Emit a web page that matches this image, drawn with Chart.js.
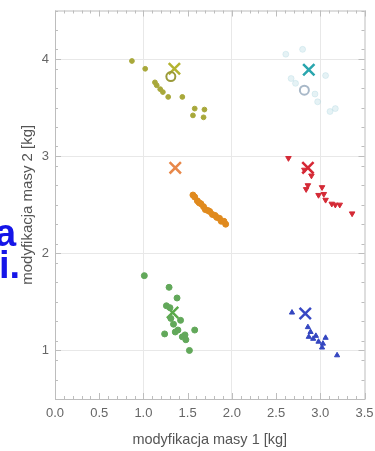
<!DOCTYPE html>
<html>
<head>
<meta charset="utf-8">
<script src="https://cdn.jsdelivr.net/npm/chart.js@4.4.0/dist/chart.umd.min.js"></script>
<style>
  html, body { margin: 0; padding: 0; background: #fff; }
  #wrap { position: relative; width: 375px; height: 451px; overflow: hidden; }
  .cut { position: absolute; font: bold 38px "Liberation Sans", Arial, sans-serif; line-height: 38px; color: #1515e8; white-space: nowrap; }
</style>
</head>
<body>
<div id="wrap">
  <canvas id="chart" width="375" height="451"></canvas>
  <div class="cut" style="left:-5px;top:214px">a</div>
  <div class="cut" style="left:-1px;top:246px">i.</div>
</div>
<script>
// cluster centres (X markers)
const centerX = [1.35, 1.36, 1.33, 2.87, 2.86, 2.83];
const centerY = [3.90, 2.88, 1.39, 3.89, 2.88, 1.38];

// hollow circles next to two of the centres
const ringX = [1.31, 2.82];
const ringY = [3.82, 3.68];

const yellowX = [0.87, 1.02, 1.13, 1.15, 1.19, 1.22, 1.28, 1.44, 1.58, 1.69, 1.56, 1.68];
const yellowY = [3.98, 3.90, 3.76, 3.73, 3.69, 3.66, 3.61, 3.61, 3.49, 3.48, 3.42, 3.40];

const orangeX = [1.56, 1.58, 1.61, 1.63, 1.65, 1.68, 1.70, 1.73, 1.75, 1.78, 1.81, 1.83, 1.86, 1.88, 1.91, 1.93];
const orangeY = [2.60, 2.58, 2.54, 2.52, 2.51, 2.48, 2.45, 2.44, 2.43, 2.40, 2.39, 2.37, 2.36, 2.33, 2.33, 2.30];

const greenX = [1.01, 1.29, 1.38, 1.26, 1.30, 1.31, 1.34, 1.42, 1.24, 1.36, 1.39, 1.44, 1.47, 1.58, 1.48, 1.52];
const greenY = [1.77, 1.65, 1.54, 1.46, 1.44, 1.33, 1.27, 1.31, 1.17, 1.19, 1.21, 1.14, 1.16, 1.21, 1.11, 1.00];

const cyanX = [2.61, 2.80, 3.06, 2.67, 2.72, 2.94, 2.97, 3.11, 3.17];
const cyanY = [4.05, 4.10, 3.83, 3.80, 3.75, 3.64, 3.56, 3.46, 3.49];

const redX = [2.64, 2.82, 2.90, 2.86, 2.84, 3.02, 2.98, 3.04, 3.06, 3.13, 3.17, 3.22, 3.36];
const redY = [2.98, 2.86, 2.80, 2.70, 2.66, 2.68, 2.60, 2.61, 2.55, 2.51, 2.50, 2.50, 2.41];

const blueX = [2.68, 2.86, 2.89, 2.87, 2.92, 2.95, 2.98, 3.03, 3.06, 3.02, 3.19];
const blueY = [1.39, 1.24, 1.19, 1.14, 1.12, 1.15, 1.09, 1.07, 1.13, 1.03, 0.95];

const centerColors = ['#b3b330', '#e8884a', '#5aaa4a', '#2aa6ae', '#d62735', '#3848c4'];

const xTicks = [0, 0.5, 1, 1.5, 2, 2.5, 3, 3.5];
const yTicks = [1, 2, 3, 4];

function pts(xs, ys) {
  return xs.map((x, i) => ({ x: x, y: ys[i] }));
}

function cloud(xs, ys, color, style, r, rot) {
  return {
    data: pts(xs, ys),
    pointStyle: style,
    pointRadius: r,
    rotation: rot || 0,
    backgroundColor: color,
    borderColor: color,
    borderWidth: 1,
    showLine: false
  };
}

const datasets = [
  cloud(yellowX, yellowY, '#a8a83a', 'circle', 2.4),
  cloud(orangeX, orangeY, '#e08a1e', 'circle', 3),
  cloud(greenX, greenY, '#62a85a', 'circle', 3),
  cloud(cyanX, cyanY, 'rgba(160,210,220,0.28)', 'circle', 3),
  cloud(redX, redY, '#d42a36', 'triangle', 3.2, 180),
  cloud(blueX, blueY, '#3446c0', 'triangle', 3),
  {
    data: pts(ringX, ringY),
    pointStyle: 'circle',
    pointRadius: 4.5,
    backgroundColor: 'rgba(0,0,0,0)',
    borderColor: ['#9a9a3a', '#a8b8c8'],
    borderWidth: 2,
    showLine: false
  },
  {
    data: pts(centerX, centerY),
    pointStyle: 'crossRot',
    pointRadius: 8,
    borderColor: centerColors,
    borderWidth: 2.5,
    showLine: false
  }
];

// frame with inward ticks, like the original
const framePlugin = {
  id: 'frame',
  beforeDatasetsDraw(chart) {
    const { ctx, chartArea: a, scales: { x, y } } = chart;
    ctx.save();
    ctx.strokeStyle = '#bdbdbd';
    ctx.lineWidth = 1;
    ctx.strokeRect(a.left + 0.5, a.top + 0.5, a.right - a.left, a.bottom - a.top);
    ctx.beginPath();
    for (let i = 0; i <= 35; i++) {
      const px = Math.round(x.getPixelForValue(i / 10)) + 0.5;
      const len = i % 5 === 0 ? 6 : 3;
      ctx.moveTo(px, a.bottom); ctx.lineTo(px, a.bottom - len);
      ctx.moveTo(px, a.top); ctx.lineTo(px, a.top + len);
    }
    for (let i = 5; i <= 45; i += 2) {
      const py = Math.round(y.getPixelForValue(i / 10)) + 0.5;
      ctx.moveTo(a.left, py); ctx.lineTo(a.left + 3, py);
      ctx.moveTo(a.right, py); ctx.lineTo(a.right - 3, py);
    }
    for (let i = 1; i <= 4; i++) {
      const py = Math.round(y.getPixelForValue(i)) + 0.5;
      ctx.moveTo(a.left, py); ctx.lineTo(a.left + 6, py);
      ctx.moveTo(a.right, py); ctx.lineTo(a.right - 6, py);
    }
    ctx.stroke();
    ctx.restore();
  }
};

const gridColor = (ctx) => {
  const v = ctx.tick ? ctx.tick.value : null;
  return v !== null && Number.isInteger(v) && v > 0 ? '#e8e8e8' : 'rgba(0,0,0,0)';
};

new Chart(document.getElementById('chart').getContext('2d'), {
  type: 'scatter',
  data: { datasets: datasets },
  options: {
    responsive: false,
    animation: false,
    layout: { padding: { top: 6, right: 5, left: 0, bottom: 0 } },
    plugins: { legend: { display: false }, tooltip: { enabled: false } },
    scales: {
      x: {
        type: 'linear',
        min: 0,
        max: 3.5,
        afterBuildTicks: (s) => { s.ticks = xTicks.map(v => ({ value: v })); },
        afterFit: (s) => { s.height = 52; s.paddingLeft = 0; s.paddingRight = 0; },
        ticks: {
          callback: (v) => v.toFixed(1),
          font: { family: 'Liberation Sans', size: 13 },
          color: '#666',
          padding: 7,
          maxRotation: 0
        },
        grid: { color: gridColor, drawTicks: false },
        border: { display: false },
        title: {
          display: true,
          text: 'modyfikacja masy 1 [kg]',
          font: { family: 'Liberation Sans', size: 14.5 },
          color: '#555',
          padding: { top: 0, bottom: 2 }
        }
      },
      y: {
        type: 'linear',
        min: 0.5,
        max: 4.5,
        afterBuildTicks: (s) => { s.ticks = yTicks.map(v => ({ value: v })); },
        afterFit: (s) => { s.width = 55; s.paddingTop = 0; s.paddingBottom = 0; },
        ticks: {
          callback: (v) => String(v),
          font: { family: 'Liberation Sans', size: 13 },
          color: '#666',
          padding: 6
        },
        grid: { color: gridColor, drawTicks: false },
        border: { display: false },
        title: {
          display: true,
          text: 'modyfikacja masy 2 [kg]',
          font: { family: 'Liberation Sans', size: 15 },
          color: '#555',
          padding: { top: 19, bottom: 0 }
        }
      }
    }
  },
  plugins: [framePlugin]
});
</script>
</body>
</html>
